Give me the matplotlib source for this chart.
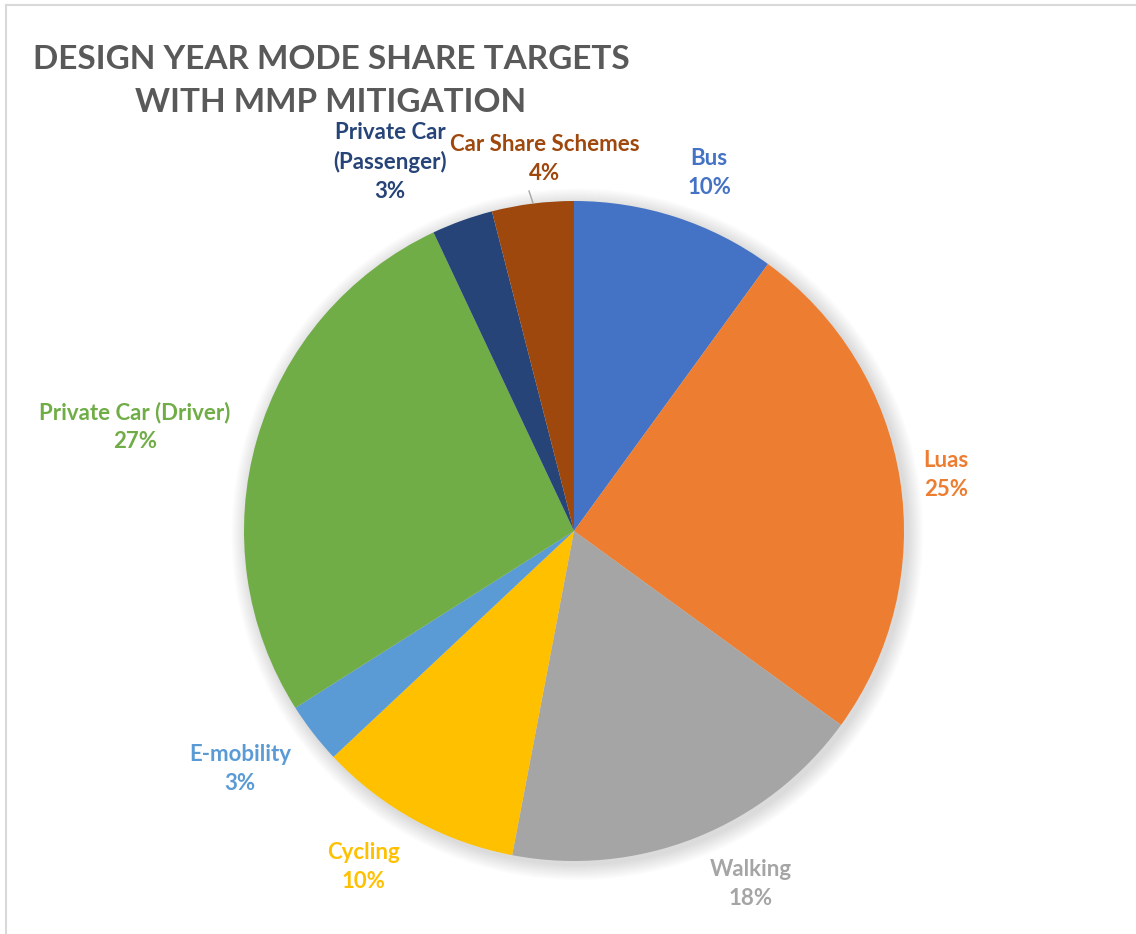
import matplotlib
matplotlib.use("Agg")
import matplotlib.pyplot as plt
from matplotlib.patches import Circle
from matplotlib.lines import Line2D

# Mode share data
categories = ["Bus", "Luas", "Walking", "Cycling", "E-mobility",
              "Private Car (Driver)", "Private Car\n(Passenger)", "Car Share Schemes"]
shares = [10, 25, 18, 10, 3, 27, 3, 4]
colors = ["#4472C4", "#ED7D31", "#A5A5A5", "#FFC000", "#5B9BD5",
          "#70AD47", "#264478", "#9E480E"]

W, H = 1136, 934
CX, CY, R = 574, 531, 330  # pie centre and radius in pixels

# label centre positions in pixels (layout)
label_px = [(709, 173), (946, 475), (751, 884), (363, 867), (240, 769),
            (135, 427), (390, 162), (545, 159)]

fig = plt.figure(figsize=(W / 100, H / 100), dpi=100)
ax = fig.add_axes([0, 0, 1, 1])


def to_data(px, py):
    return (px - CX) / R, (CY - py) / R


# soft shadow behind the pie
for i in range(12):
    ax.add_patch(Circle((0.010, -0.010), 1 + 0.004 * (12 - i), color="black",
                        alpha=0.010, lw=0, zorder=1))

wedges, _ = ax.pie(shares, colors=colors, startangle=90, counterclock=False,
                   radius=1, center=(0, 0), wedgeprops=dict(linewidth=0))
for w in wedges:
    w.set_zorder(2)

ax.set_xlim(-CX / R, (W - CX) / R)
ax.set_ylim(-(H - CY) / R, CY / R)
ax.set_aspect("equal")
ax.axis("off")

# chart frame
fx0, fy0 = to_data(6, 5)
fx1, fy1 = to_data(W, H)
ax.add_line(Line2D([fx0, fx1], [fy0, fy0], color="#d9d9d9", lw=1.5, zorder=0))
ax.add_line(Line2D([fx0, fx0], [fy0, fy1], color="#d9d9d9", lw=1.5, zorder=0))

font = ["Lato", "DejaVu Sans"]
for name, val, col, (px, py) in zip(categories, shares, colors, label_px):
    x, y = to_data(px, py)
    ax.text(x, y, f"{name}\n{val}%", ha="center", va="center", color=col,
            fontsize=16, fontweight="bold", family=font, linespacing=1.45, zorder=5)

# leader line for the Car Share Schemes label
x0, y0 = to_data(529, 191)
x1, y1 = to_data(533, 203)
ax.add_line(Line2D([x0, x1], [y0, y1], color="#a6a6a6", lw=1, zorder=5))

# title
tx, ty = to_data(331, 81)
ax.text(tx, ty, "DESIGN YEAR MODE SHARE TARGETS\nWITH MMP MITIGATION", ha="center",
        va="center", color="#595959", fontsize=24, fontweight="bold", family=font,
        linespacing=1.55)

fig.savefig("out.png", dpi=100, facecolor="white")
